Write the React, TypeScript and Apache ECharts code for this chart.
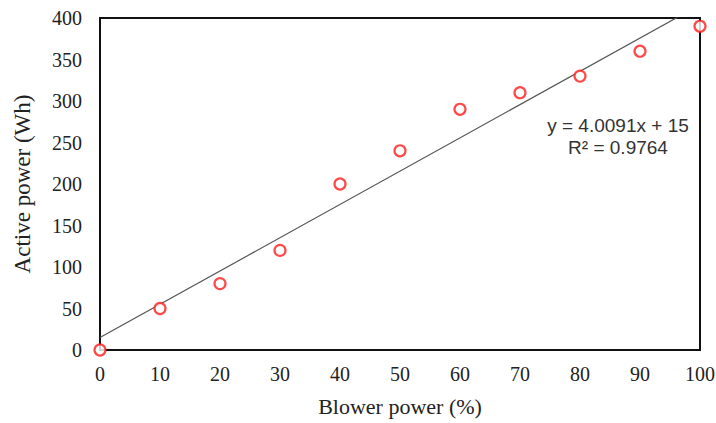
import React, { useEffect, useRef } from "react";
import * as echarts from "echarts";

// Measured blower power (%) vs. active power (Wh)
const blowerPower = [0, 10, 20, 30, 40, 50, 60, 70, 80, 90, 100];
const activePower = [0, 50, 80, 120, 200, 240, 290, 310, 330, 360, 390];

// Linear trendline as stated on the chart
const slope = 4.0091;
const intercept = 15;
const rSquared = 0.9764;

const xTicks = { min: 0, max: 100, interval: 10 };
const yTicks = { min: 0, max: 400, interval: 50 };

export default function App() {
  const ref = useRef<HTMLDivElement>(null);

  useEffect(() => {
    if (!ref.current) return;
    const chart = echarts.init(ref.current, null, { renderer: "svg" });

    const points = blowerPower.map((x, i) => [x, activePower[i]]);
    const trend = [xTicks.min, xTicks.max].map((x) => [x, slope * x + intercept]);

    const serif = "'Liberation Serif', 'Times New Roman', serif";
    const sans = "'Liberation Sans', Arial, sans-serif";

    chart.setOption({
      animation: false,
      backgroundColor: "#fff",
      grid: {
        left: 100,
        top: 18,
        right: 16,
        bottom: 73,
        outerBoundsMode: "none",
        containLabel: false,
        show: true,
        borderColor: "#111",
        borderWidth: 2,
        backgroundColor: "transparent",
      },
      xAxis: {
        type: "value",
        min: xTicks.min,
        max: xTicks.max,
        interval: xTicks.interval,
        name: "Blower power (%)",
        nameLocation: "middle",
        nameGap: 45,
        nameTextStyle: { fontFamily: serif, fontSize: 22, color: "#222" },
        axisLine: { show: false },
        axisTick: { show: false },
        splitLine: { show: false },
        axisLabel: { fontFamily: serif, fontSize: 20, color: "#222", margin: 14 },
      },
      yAxis: {
        type: "value",
        min: yTicks.min,
        max: yTicks.max,
        interval: yTicks.interval,
        name: "Active power (Wh)",
        nameLocation: "middle",
        nameGap: 66,
        nameTextStyle: { fontFamily: serif, fontSize: 23, color: "#222" },
        axisLine: { show: false },
        axisTick: { show: false },
        splitLine: { show: false },
        axisLabel: { fontFamily: serif, fontSize: 20, color: "#222", margin: 18 },
      },
      series: [
        {
          type: "line",
          data: trend,
          symbol: "none",
          clip: true,
          lineStyle: { color: "#555", width: 1.2 },
          silent: true,
          z: 2,
        },
        {
          type: "scatter",
          data: points,
          symbol: "circle",
          symbolSize: 11,
          itemStyle: { color: "#fff", borderColor: "#ff1a1a", borderWidth: 2.2 },
          clip: false,
          z: 3,
        },
      ],
      graphic: [
        {
          type: "text",
          x: 618,
          y: 125,
          style: {
            text: `y = ${slope}x + ${intercept}`,
            fontFamily: sans,
            fontSize: 19,
            fill: "#333",
            align: "center",
            verticalAlign: "middle",
          },
        },
        {
          type: "text",
          x: 618,
          y: 147,
          style: {
            text: `R² = ${rSquared}`,
            fontFamily: sans,
            fontSize: 19,
            fill: "#333",
            align: "center",
            verticalAlign: "middle",
          },
        },
      ],
    });

    return () => chart.dispose();
  }, []);

  return (
    <div
      ref={ref}
      style={{ position: "absolute", left: 0, top: 0, width: 716, height: 423 }}
    />
  );
}
